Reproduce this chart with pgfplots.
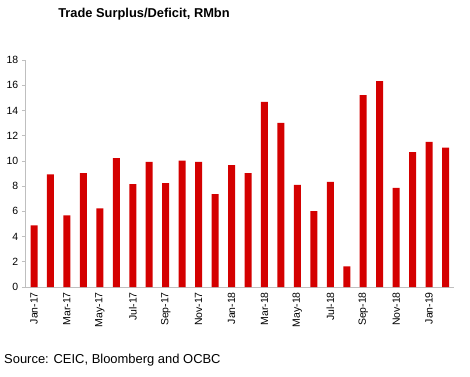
\documentclass[border=0pt]{standalone}
\usepackage{pgfplots}
\pgfplotsset{compat=1.18}
\usepackage{fontspec}
\setmainfont{Liberation Sans}
\definecolor{barred}{HTML}{D40000}
\definecolor{axgray}{HTML}{BFBFBF}
\begin{document}
\begin{tikzpicture}[x=1bp,y=1bp]
\useasboundingbox (0,0) rectangle (470,376);
\begin{axis}[
  at={(34bp,89bp)}, anchor=origin,
  scale only axis, width=428bp, height=227bp,
  xmin=-0.5, xmax=25.5, ymin=0, ymax=18,
  ytick={0,2,...,18},
  xtick={0,2,...,24},
  xticklabels={Jan-17,Mar-17,May-17,Jul-17,Sep-17,Nov-17,Jan-18,Mar-18,May-18,Jul-18,Sep-18,Nov-18,Jan-19},
  xticklabel style={rotate=90, anchor=east, font=\fontsize{10.5}{11}\selectfont, inner sep=1bp},
  yticklabel style={font=\fontsize{10.5}{11}\selectfont},
  /pgf/number format/assume math mode=true,
  axis x line*=bottom, axis y line*=left,
  axis line style={axgray, line width=0.8bp},
  x axis line style={-}, y axis line style={-},
  major x tick style={draw=none},
  major y tick style={axgray, line width=0.6bp},
  tick align=outside, major tick length=4bp,
  ybar, bar width=7bp,
]
\addplot[fill=barred, draw=none] coordinates {
(0,4.88) (1,8.94) (2,5.67) (3,9.02) (4,6.23) (5,10.21) (6,8.15) (7,9.92)
(8,8.23) (9,10.03) (10,9.92) (11,7.36) (12,9.66) (13,9.02) (14,14.67) (15,13.01)
(16,8.10) (17,6.02) (18,8.34) (19,1.64) (20,15.22) (21,16.33) (22,7.86) (23,10.69)
(24,11.50) (25,11.06)};
\end{axis}
\node[anchor=base, font=\bfseries\fontsize{12.9}{14}\selectfont, inner sep=0] at (144,359) {Trade Surplus/Deficit, RMbn};
\node[anchor=base west, font=\fontsize{13}{15}\selectfont, inner sep=0] at (4,13) {Source: CEIC, Bloomberg and OCBC};
\end{tikzpicture}
\end{document}
